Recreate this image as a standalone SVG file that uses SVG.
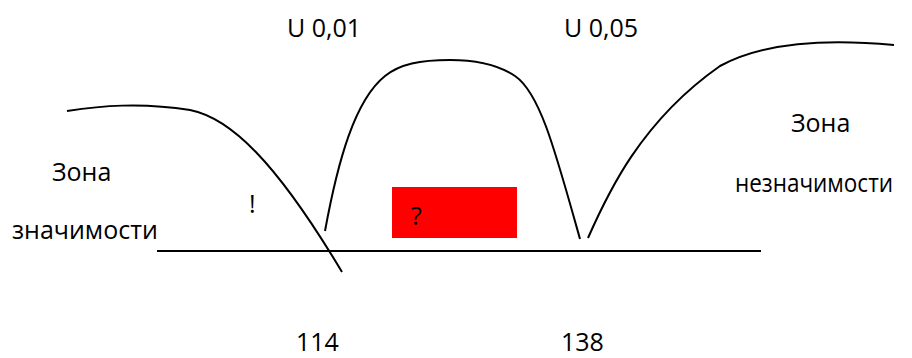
<svg xmlns="http://www.w3.org/2000/svg" width="912" height="358" viewBox="0 0 912 358">
<style>
.t{font-family:"Open Sans","Liberation Sans",sans-serif;font-size:25px;fill:#000}
.c{fill:none;stroke:#000;stroke-width:2;stroke-linecap:butt}
</style>
<rect width="912" height="358" fill="#fff"/>
<g id="connectors">
<path id="axis" class="c" d="M157,251 L761,251"/>
<path id="left-curve" class="c" d="M67,111 C100,106 140,102 190,110 C230,118 275,160 342,272"/>
<path id="hump" class="c" d="M325,231 C338,160 355,100 385,76 C400,64 420,60 450,60 C480,60 500,66 515,76 C540,93 555,150 580,239"/>
<path id="right-curve" class="c" d="M588,238 C607,195 640,122 720,66 C760,44 820,38 894,45"/>
</g>
<g id="label-u001"><text class="t" x="287" y="37">U 0,01</text></g>
<g id="label-u005"><text class="t" x="564" y="37">U 0,05</text></g>
<g id="zone-sig"><text class="t" x="52" y="181">Зона</text><text class="t" x="12" y="239">значимости</text></g>
<g id="excl"><text class="t" x="249" y="213">!</text></g>
<g id="box"><rect x="392" y="187" width="125" height="51" fill="#ff0000"/><text class="t" x="411" y="225">?</text></g>
<g id="zone-nonsig"><text class="t" x="791" y="132">Зона</text><text class="t" x="735" y="192" textLength="158" lengthAdjust="spacingAndGlyphs">незначимости</text></g>
<g id="val-114"><text class="t" x="296" y="351">114</text></g>
<g id="val-138"><text class="t" x="561" y="351">138</text></g>
</svg>
